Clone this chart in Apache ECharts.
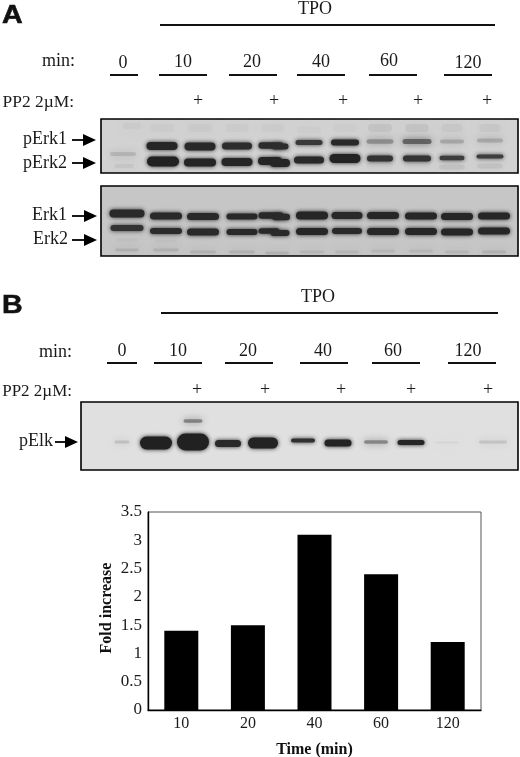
<!DOCTYPE html>
<html><head><meta charset="utf-8">
<style>html,body{margin:0;padding:0;background:#fff}#c{width:520px;height:757px}</style>
<script src="https://cdn.jsdelivr.net/npm/echarts@6/dist/echarts.min.js"></script>
</head><body><div id="c"></div>
<script>
// ---- data ----
const timeCategories = ['10','20','40','60','120'];
const foldIncrease = [1.4,1.5,3.1,2.4,1.2];
const foldTicks = [0,0.5,1,1.5,2,2.5,3,3.5];

// gel bands: [position along gel, migration down gel, band width, band thickness, darkness]
const pErk1Bands = [[162,146,31,8,.92],[200,146.5,31,8,.9],[237,146,30,7,.88],[271,145.5,25,6.5,.88],[280,146.5,17,6,.88],[309,142.5,27,5,.78],[345,142.5,28,6,.9],[380,141.5,27,4.5,.42],[417,141.5,29,5,.6],[452,141.5,24,4,.3],[490,140.5,26,4,.3]];
const pErk2Bands = [[163,161.5,32,10,.96],[200,162.5,32,8,.93],[237,162,31,8,.93],[270,161,24,8,.93],[280,163,20,8,.93],[309,160,30,7,.9],[345,158.5,31,9,.95],[380,158.5,26,6,.82],[417,158.5,28,6,.82],[452,158,25,4.5,.75],[490,156.5,27,4,.75]];
const pErkFaint = [[123,154,26,4,.22],[124,166,20,4,.12],[452,167,26,5,.14],[490,166,26,5,.14],[380,165,26,5,.07],[417,165,26,5,.07]];
const erk1Bands = [[127,213.5,35,8,.9],[166,216,32,7,.9],[203,216.5,32,7,.9],[242,216.5,31,6,.9],[271,215.5,25,6.5,.9],[281,217,18,6.5,.9],[312,215.5,32,8,.92],[347,215.5,31,7,.9],[383,215.5,32,7,.92],[421,216,32,7,.92],[457,216.5,32,7,.92],[494,216,32,7,.92]];
const erk2Bands = [[127,228,33,6,.82],[166,231,32,6,.88],[203,232,32,7,.9],[242,232,31,6,.9],[269,231,21,5.5,.9],[280,233,19,6,.9],[312,231.5,32,7,.92],[347,231,30,6,.9],[383,231.5,32,7,.92],[421,231.5,32,7,.92],[457,232,32,7,.92],[494,231,32,7,.92]];
const erkFaint = [[127,250,24,3,.2],[166,250,26,3,.2],[203,252,26,3,.2],[242,252,26,3,.2],[277,253,24,3,.2],[312,252,24,3,.16],[347,252,24,3,.16],[383,251,24,3,.16],[421,251,24,3,.16],[457,252,24,3,.16],[494,252,24,3,.2],[166,241,22,3,.08],[127,240,22,3,.08]];
const pElkBands = [[122,442,15,3,.22],[156,443,32,13,.96],[193,442,32,17,.96],[193,421,19,3.5,.5],[228,443.5,26,7,.9],[263,443,30,11,.95],[303,440.5,24,4,.85],[338,443,27,7,.94],[376,442,24,3.5,.48],[411,442.5,27,5,.92],[447,442.5,24,2,.1],[493,442,28,3,.2]];
const pErkSmudge = [[162,128,24,8,.06],[200,128,24,8,.08],[237,128,24,8,.06],[273,128,24,8,.06],[309,130,24,7,.05],[345,128,24,8,.05],[380,128,24,8,.12],[417,128,24,8,.12],[452,128,22,8,.1],[490,128,22,8,.09],[132,126,18,6,.08]];

const gelAxes = {
  a1:{x:[101,518],y:[119,173]}, a2:{x:[101,518],y:[186,256]}, b:{x:[81,518],y:[402,470]}
};

const serif = '"Liberation Serif","Times New Roman",serif';
const sans = '"Liberation Sans",Arial,sans-serif';

function txt(x,y,s,align,size,weight,fam){
  return {type:'text',silent:true,style:{x:x,y:y,text:s,textAlign:align||'center',textVerticalAlign:'middle',font:(weight||'normal')+' '+(size||18)+'px '+(fam||serif),fill:'#1a1a1a'}};
}
function panel(x,y,s){
  return {type:'text',silent:true,x:x,y:y,scaleX:1.1,style:{x:0,y:0,text:s,textAlign:'left',textVerticalAlign:'middle',font:'bold 26px '+sans,fill:'#111',stroke:'#111',lineWidth:.6}};
}
function rule(x1,x2,y,h){return {type:'rect',silent:true,shape:{x:x1,y:y-(h||2)/2,width:x2-x1,height:h||2},style:{fill:'#111'}};}
function arrow(x1,xh,xt,y,hh){
  return [{type:'rect',silent:true,shape:{x:x1,y:y-0.9,width:xh-x1,height:1.8},style:{fill:'#000'}},
    {type:'polygon',silent:true,shape:{points:[[xh,y-hh],[xt,y],[xh,y+hh]]},style:{fill:'#000'}}];
}
let g = [];
g.push(panel(2,16,'A'));
g.push(txt(315,9,'TPO','center',18));
g.push(rule(160,495,25));
g.push(txt(75,61,'min:','right'));
[['0',123,63],['10',183,62],['20',252,62],['40',321,62],['60',389,61],['120',468,63]].forEach(a=>g.push(txt(a[1],a[2],a[0])));
[[110,138],[159,207],[229,277],[297,345],[369,417],[444,492]].forEach(a=>g.push(rule(a[0],a[1],75)));
g.push(txt(74,102,'PP2 2µM:','right',17.4));
[198,274,343,418,487].forEach(x=>g.push(txt(x,101,'+')));
g.push(txt(67,139,'pErk1','right'),txt(67,163,'pErk2','right'),txt(67,215,'Erk1','right'),txt(68,239,'Erk2','right'));
g=g.concat(arrow(72,83,96,140,6),arrow(72,83,96,163,6),arrow(72,84,97,216,6),arrow(72,84,97,240,6));
g.push(panel(2,306,'B'));
g.push(txt(318,297,'TPO','center',18));
g.push(rule(161,498,313));
g.push(txt(72,352,'min:','right'));
[['0',122,351],['10',178,351],['20',248,351],['40',323,351],['60',393,351],['120',468,351]].forEach(a=>g.push(txt(a[1],a[2],a[0])));
[[107,137],[154,202],[225,273],[300,348],[372,420],[448,496]].forEach(a=>g.push(rule(a[0],a[1],363)));
g.push(txt(72,392,'PP2 2µM:','right',17));
[197,265,341,411,488].forEach(x=>g.push(txt(x,390,'+')));
g.push(txt(53,441,'pElk','right'));
g=g.concat(arrow(55,65,78,442,6));

function bandSeries(idx,data){
  return {type:'custom',xAxisIndex:idx,yAxisIndex:idx,silent:true,clip:true,animation:false,
    data:data,
    renderItem:function(p,api){
      const c=api.coord([api.value(0),api.value(1)]);
      const w=api.size([api.value(2),0])[0], h=api.size([0,api.value(3)])[1];
      const d=api.value(4), v=Math.round(28+130*(1-d));
      const col='rgb('+v+','+v+','+v+')';
      return {type:'rect',shape:{x:c[0]-w/2,y:c[1]-h/2,width:w,height:h,r:h/2},
         style:{fill:col,opacity:d>.6?1:d*1.3,shadowBlur:d>.6?4:(d<.15?14:7),shadowColor:col}};
    }};
}
const gelKeys=['a1','a2','b'];
const gelBg=['#d2d2d2','#c6c6c6','#e0e0e0'];
const grids=gelKeys.map((k,i)=>{const a=gelAxes[k];return {left:a.x[0],top:a.y[0],width:a.x[1]-a.x[0],height:a.y[1]-a.y[0],show:true,outerBoundsMode:'none',
  backgroundColor:gelBg[i],borderColor:'#000',borderWidth:1.6};});
grids.push({left:148,top:512,width:333,height:198,show:true,outerBoundsMode:'none',backgroundColor:'#fff',borderColor:'#555',borderWidth:1});
const xs=gelKeys.map((k,i)=>({type:'value',gridIndex:i,min:gelAxes[k].x[0],max:gelAxes[k].x[1],show:false}));
const ys=gelKeys.map((k,i)=>({type:'value',gridIndex:i,min:gelAxes[k].y[0],max:gelAxes[k].y[1],inverse:true,show:false}));
xs.push({type:'category',gridIndex:3,data:timeCategories,
  axisLine:{lineStyle:{color:'#000',width:1.4}},axisTick:{show:false},
  axisLabel:{color:'#1a1a1a',fontFamily:serif,fontSize:16,margin:6},
  name:'Time (min)',nameLocation:'middle',nameGap:32,nameMoveOverlap:false,
  nameTextStyle:{color:'#111',fontFamily:serif,fontWeight:'bold',fontSize:16}});
ys.push({type:'value',gridIndex:3,min:0,max:3.5,interval:0.5,
  axisLine:{show:true,lineStyle:{color:'#000',width:1.4}},axisTick:{show:false},splitLine:{show:false},
  axisLabel:{color:'#1a1a1a',fontFamily:serif,fontSize:17,margin:6,
    customValues:foldTicks,formatter:v=>String(v)},
  name:'Fold increase',nameLocation:'middle',nameGap:33,nameRotate:90,nameMoveOverlap:false,
  nameTextStyle:{color:'#111',fontFamily:serif,fontWeight:'bold',fontSize:16,padding:[0,0,0,6]}});

const chart=echarts.init(document.getElementById('c'),null,{renderer:'canvas'});
chart.setOption({
  animation:false,backgroundColor:'#fff',
  grid:grids,xAxis:xs,yAxis:ys,
  series:[
    bandSeries(0,pErkSmudge),bandSeries(0,pErkFaint),bandSeries(0,pErk1Bands),bandSeries(0,pErk2Bands),
    bandSeries(1,erkFaint),bandSeries(1,erk1Bands),bandSeries(1,erk2Bands),
    bandSeries(2,pElkBands),
    {type:'bar',xAxisIndex:3,yAxisIndex:3,data:foldIncrease,barWidth:34,itemStyle:{color:'#000'},silent:true}
  ],
  graphic:{elements:g}
});
</script></body></html>
